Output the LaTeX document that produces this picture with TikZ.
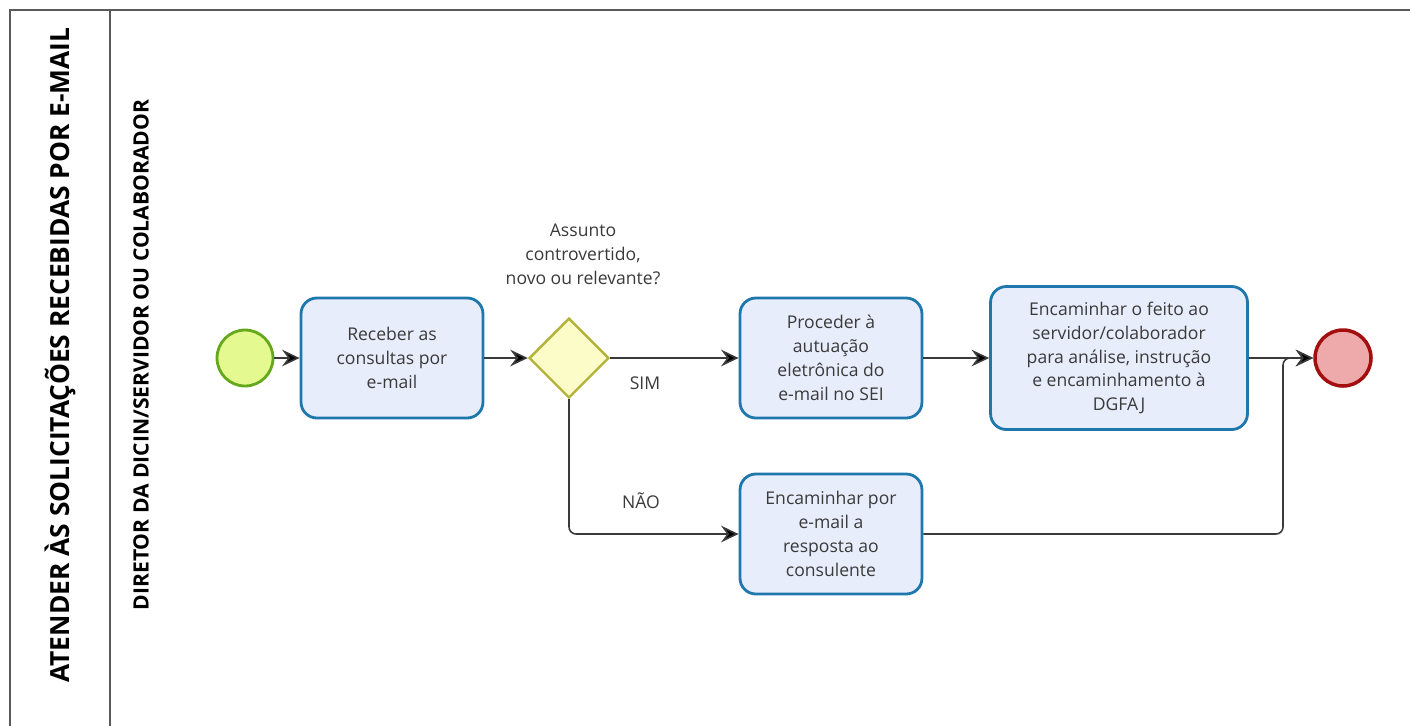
\documentclass[tikz,border=0pt]{standalone}
\usepackage{fontspec}
\setmainfont{Open Sans}
\usetikzlibrary{arrows.meta,shapes.geometric}
\definecolor{txtgray}{HTML}{3A3A3A}
\definecolor{poolline}{HTML}{5A5A5A}
\definecolor{taskline}{HTML}{1E78AC}
\definecolor{taskfill}{HTML}{E8EDFC}
\definecolor{gateline}{HTML}{B3B33A}
\definecolor{gatefill}{HTML}{FCFCC9}
\definecolor{startline}{HTML}{66A81C}
\definecolor{startfill}{HTML}{E4F98F}
\definecolor{endline}{HTML}{A30E0E}
\definecolor{endfill}{HTML}{EEAAAA}
\begin{document}
\begin{tikzpicture}[x=0.02cm, y=-0.02cm, every node/.style={font=\fontsize{10}{13.6}\selectfont, text=txtgray}]
\tikzset{task/.style={draw=taskline, fill=taskfill, line width=1.6pt, rounded corners=9pt, minimum width=3.64cm, minimum height=2.4cm, align=center, inner sep=2pt},
  gate/.style={diamond, draw=gateline, fill=gatefill, line width=1.4pt, minimum width=1.6cm, minimum height=1.6cm, inner sep=0pt},
  startev/.style={circle, draw=startline, fill=startfill, line width=1.6pt, minimum size=1.12cm, inner sep=0pt},
  endev/.style={circle, draw=endline, fill=endfill, line width=2pt, minimum size=1.12cm, inner sep=0pt},
  flow/.style={draw=txtgray, line width=0.9pt, -{Stealth[length=10pt, width=9.5pt, inset=3.5pt, fill=black]}}}
\clip (0,0) rectangle (1410,725);
% pool and lane
\draw[poolline, line width=1.1pt] (10,740) -- (10,10) -- (1420,10);
\draw[poolline, line width=1.1pt] (110,10) -- (110,740);
\node[rotate=90, text=black, font=\bfseries\fontsize{15}{18}\selectfont] (pooltitle) at (60,355) {ATENDER ÀS SOLICITAÇÕES RECEBIDAS POR E-MAIL};
\node[rotate=90, text=black, font=\bfseries\fontsize{12}{14}\selectfont] (lanetitle) at (141,355) {DIRETOR DA DICIN/SERVIDOR OU COLABORADOR};
% events, tasks, gateway
\node[startev] (start) at (245,358) {};
\node[task] (receber) at (392,358) {Receber as\\consultas por\\e-mail};
\node[gate] (gw) at (569,358) {};
\node[align=center] (pergunta) at (583,254) {Assunto\\controvertido,\\novo ou relevante?};
\node[task] (autuar) at (831,358) {Proceder à\\autuação\\eletrônica do\\e-mail no SEI};
\node[task, minimum width=5.14cm, minimum height=2.86cm] (encaminhar) at (1119,358) {Encaminhar o feito ao\\servidor/colaborador\\para análise, instrução\\e encaminhamento à\\DGFAJ};
\node[task] (responder) at (831,534) {Encaminhar por\\e-mail a\\resposta ao\\consulente};
\node[endev] (fim) at (1343,358) {};
\node (sim) at (645,383) {SIM};
\node (nao) at (641,501) {NÃO};
\coordinate (juncao) at (1283,358);
% flows
\draw[flow] (start) -- (receber);
\draw[flow] (receber) -- (gw);
\draw[flow] (gw) -- (autuar);
\draw[flow, rounded corners=4pt] (gw.south) |- (responder.west);
\draw[flow] (autuar) -- (encaminhar);
\draw[flow] (encaminhar) -- (fim);
\draw[flow, rounded corners=4pt] (responder.east) -| (juncao) -- (fim.west);
\end{tikzpicture}
\end{document}
